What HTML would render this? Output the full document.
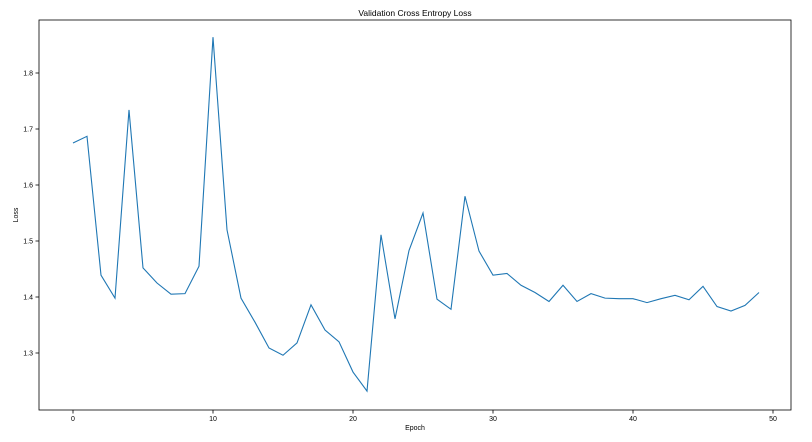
<!DOCTYPE html>
<html><head><meta charset="utf-8"><style>
html,body{margin:0;padding:0;background:#fff;}
svg text{font-family:"Liberation Sans","DejaVu Sans",sans-serif;fill:#000;}
</style></head><body>
<svg id="chart" width="812" height="437" xmlns="http://www.w3.org/2000/svg">
<text x="415" y="16" font-size="8.5" text-anchor="middle">Validation Cross Entropy Loss</text>
<text x="415" y="430" font-size="7" text-anchor="middle">Epoch</text>
<text x="18" y="215" font-size="7" text-anchor="middle" transform="rotate(-90 18 215)">Loss</text>
<g id="ticks"></g>
<path id="line" fill="none" stroke="#1f77b4" stroke-width="1.1"/>
<rect x="39" y="20" width="752" height="390" fill="none" stroke="#000" stroke-width="0.8"/>
</svg>
<script>
const epochs=[0,1,2,3,4,5,6,7,8,9,10,11,12,13,14,15,16,17,18,19,20,21,22,23,24,25,26,27,28,29,30,31,32,33,34,35,36,37,38,39,40,41,42,43,44,45,46,47,48,49];
const lossValues=[1.675,1.687,1.439,1.398,1.734,1.452,1.425,1.405,1.406,1.455,1.864,1.52,1.398,1.355,1.309,1.296,1.318,1.386,1.341,1.32,1.266,1.232,1.511,1.361,1.483,1.55,1.396,1.378,1.58,1.482,1.439,1.442,1.421,1.408,1.392,1.421,1.392,1.406,1.398,1.397,1.397,1.39,1.397,1.403,1.395,1.419,1.383,1.375,1.385,1.408];
const xTicks=[0,10,20,30,40,50];
const yTicks=[1.3,1.4,1.5,1.6,1.7,1.8];
const sx=v=>73+v*14;
const sy=v=>73+(1.8-v)*560;
const NS="http://www.w3.org/2000/svg";
const g=document.getElementById('ticks');
xTicks.forEach(t=>{
 const l=document.createElementNS(NS,'line');
 
 
 l.setAttribute('x1',sx(t));l.setAttribute('x2',sx(t));l.setAttribute('y1',410);l.setAttribute('y2',413.5);l.setAttribute('stroke','#000');l.setAttribute('stroke-width','0.8');g.appendChild(l);
 const tx=document.createElementNS(NS,'text');
 
 
 tx.setAttribute('x',sx(t));tx.setAttribute('y',421);tx.setAttribute('font-size','7');tx.setAttribute('text-anchor','middle');tx.textContent=t;g.appendChild(tx);
});
yTicks.forEach(t=>{
 const l=document.createElementNS(NS,'line');
 
 
 l.setAttribute('x1',35.5);l.setAttribute('x2',39);l.setAttribute('y1',sy(t));l.setAttribute('y2',sy(t));l.setAttribute('stroke','#000');l.setAttribute('stroke-width','0.8');g.appendChild(l);
 const tx=document.createElementNS(NS,'text');
 
 
 tx.setAttribute('x',33);tx.setAttribute('y',sy(t)+2.5);tx.setAttribute('font-size','7');tx.setAttribute('text-anchor','end');tx.textContent=t.toFixed(1);g.appendChild(tx);
});
document.getElementById('line').setAttribute('d',epochs.map((e,i)=>(i?'L':'M')+sx(e)+','+sy(lossValues[i])).join(' '));
</script>
</body></html>
